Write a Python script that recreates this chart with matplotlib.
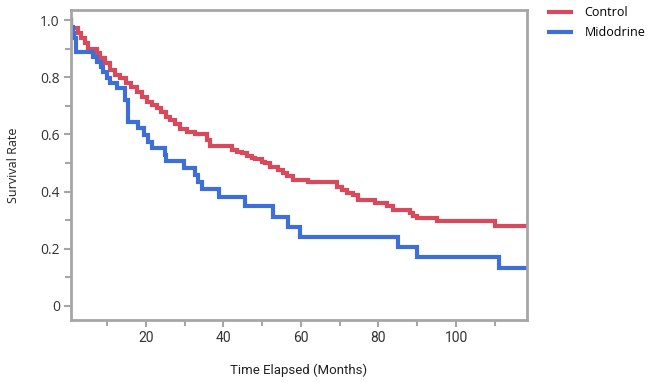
import matplotlib
matplotlib.use("Agg")
import matplotlib.pyplot as plt
from matplotlib.ticker import FuncFormatter
from matplotlib.lines import Line2D

# Kaplan-Meier step data (time in months, survival after event)
control_t = [0, 0.8, 2.5, 3.4, 4.3, 5.1, 7.3, 8.1, 9.4, 10.7, 12.0, 13.3, 15.0, 16.3,
             17.6, 18.9, 20.2, 21.5, 22.8, 24.0, 25.3, 26.2, 27.5, 28.8, 30.5, 32.6,
             35.7, 36.5, 42.1, 43.4, 44.7, 46.0, 47.3, 48.1, 49.9, 50.7, 52.0, 54.1,
             55.4, 56.5, 58.0, 61.9, 69.2, 70.5, 71.8, 73.5, 74.8, 79.1, 82.1, 83.8,
             88.1, 89.0, 89.9, 95.0, 110.0, 118.5]
control_s = [1.0, 0.972, 0.953, 0.936, 0.918, 0.900, 0.884, 0.866, 0.849, 0.825, 0.808,
             0.796, 0.779, 0.767, 0.749, 0.732, 0.715, 0.703, 0.691, 0.677, 0.662, 0.650,
             0.638, 0.620, 0.607, 0.600, 0.580, 0.560, 0.547, 0.540, 0.534, 0.525, 0.519,
             0.513, 0.505, 0.499, 0.487, 0.476, 0.466, 0.455, 0.440, 0.435, 0.417, 0.406,
             0.396, 0.388, 0.371, 0.359, 0.350, 0.335, 0.324, 0.315, 0.307, 0.297, 0.280,
             0.280]

mido_t = [0, 0.8, 1.2, 1.6, 2.1, 6.4, 7.3, 8.4, 9.0, 9.9, 10.7, 12.6, 14.6, 15.4, 18.0,
          19.5, 20.6, 21.5, 24.9, 25.3, 29.8, 32.6, 33.5, 34.4, 38.9, 45.7, 52.9, 56.7,
          59.7, 85.1, 90.0, 111.2, 118.5]
mido_s = [1.0, 0.975, 0.953, 0.936, 0.889, 0.872, 0.854, 0.837, 0.819, 0.796, 0.781,
          0.761, 0.720, 0.645, 0.621, 0.598, 0.575, 0.551, 0.528, 0.507, 0.481, 0.458,
          0.433, 0.408, 0.381, 0.348, 0.312, 0.277, 0.242, 0.207, 0.172, 0.133, 0.133]

series_names = ["Control", "Midodrine"]
x_ticks = [20, 40, 60, 80, 100]
x_minor = [10, 30, 50, 70, 90, 110]
y_ticks = [0, 0.2, 0.4, 0.6, 0.8, 1.0]
y_minor = [0.1, 0.3, 0.5, 0.7, 0.9]

RED = "#d84a5b"
BLUE = "#3e6fd9"
GRAY = "#a6a6a6"

fig = plt.figure(figsize=(6.53, 3.82), dpi=100)
ax = fig.add_axes([71/653, 62/382, 456/653, 310/382])

ax.step(control_t, control_s, where="post", color=RED, lw=3.0, solid_joinstyle="miter")
ax.step(mido_t, mido_s, where="post", color=BLUE, lw=3.0, solid_joinstyle="miter")

ax.set_xlim(0.7, 118.3)
ax.set_ylim(-0.049, 1.035)

ax.set_xticks(x_ticks)
ax.set_xticks(x_minor, minor=True)
ax.set_yticks(y_ticks)
ax.set_yticks(y_minor, minor=True)

def yfmt(v, pos):
    if abs(v) < 1e-9:
        return "0"
    return f"{v:.1f}"
ax.yaxis.set_major_formatter(FuncFormatter(yfmt))

for sp in ax.spines.values():
    sp.set_color(GRAY)
    sp.set_linewidth(2.0)

ax.tick_params(axis="both", which="major", length=5, width=1.5, color=GRAY,
               labelsize=10, labelcolor="#333333", pad=3)
ax.tick_params(axis="both", which="minor", length=4, width=1.5, color=GRAY)
for lab in ax.get_yticklabels():
    lab.set_family("Open Sans")
for lab in ax.get_xticklabels():
    lab.set_family("Roboto")

ax.set_xlabel("Time Elapsed (Months)", fontsize=9.5, color="#222222", family="Roboto")
ax.xaxis.set_label_coords(0.5, -0.14)
ax.set_ylabel("Survival Rate", fontsize=9, color="#222222", family="Open Sans")
ax.yaxis.set_label_coords(-0.112, 0.5)

handles = [Line2D([], [], color=RED, lw=3.0), Line2D([], [], color=BLUE, lw=3.0)]
fig.legend(handles, series_names, loc="upper left", bbox_to_anchor=(538/653, 1.014),
           frameon=False, handlelength=1.7, handletextpad=1.1,
           labelspacing=0.6, prop={"family": "Open Sans", "size": 9})

fig.savefig("out.png", dpi=100)
